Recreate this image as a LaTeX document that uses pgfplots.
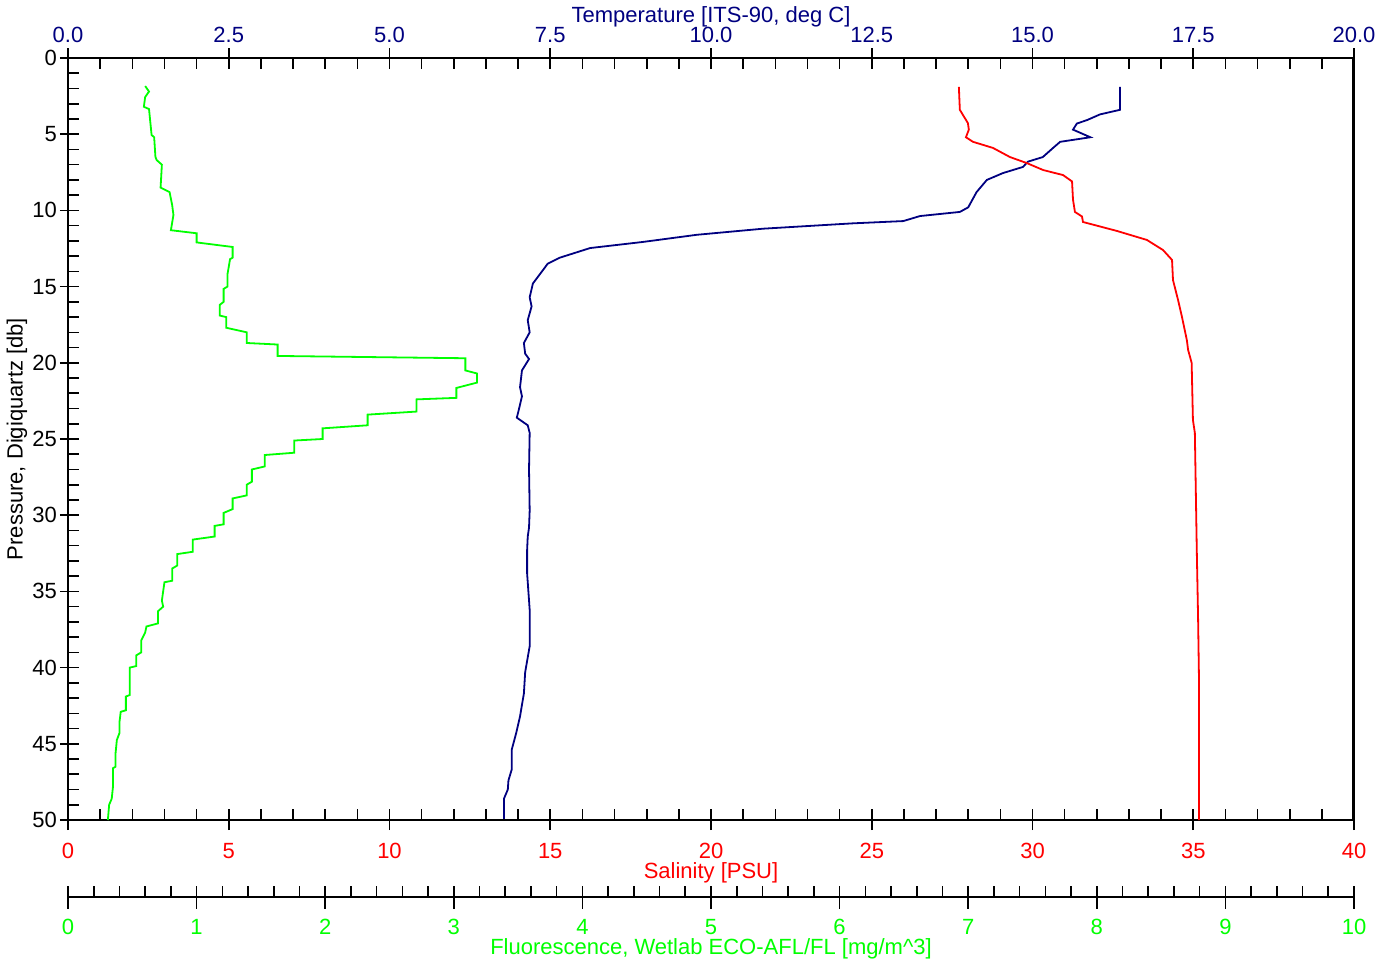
\documentclass[border=0pt]{standalone}
\usepackage{pgfplots}
\pgfplotsset{compat=1.18}
\usepackage{fontspec}
\setmainfont{Liberation Sans}

\definecolor{tempblue}{RGB}{0,0,128}
\definecolor{salred}{RGB}{255,0,0}
\definecolor{flgreen}{RGB}{0,255,0}

\newcommand{\ctdfont}{\fontsize{11}{13}\selectfont}

\pgfplotsset{
  ctd/.style={
    scale only axis, width=643pt, height=381pt,
    tick align=inside,
    major tick length=5.5pt, minor tick length=5.5pt,
    every tick/.style={black, line width=0.8pt},
    axis line style={line width=1pt},
    tick label style={font=\ctdfont},
    /pgf/number format/assume math mode=true,
  },
}

\begin{document}
\begin{tikzpicture}
\useasboundingbox (-34pt,-72pt) rectangle (663pt,410pt);

% temperature (top) and pressure (left), with the frame
\begin{axis}[ctd,
  xmin=0, xmax=20, ymin=0, ymax=50, y dir=reverse,
  xtick={0,2.5,...,20}, minor x tick num=4,
  xtick pos=right, xticklabel pos=right,
  xticklabel style={text=tempblue, anchor=base, yshift=8pt,
    /pgf/number format/.cd, fixed, fixed zerofill, precision=1},
  extra x ticks={0,2.5,...,20}, extra x tick labels={},
  extra x tick style={tick align=outside, major tick length=5pt},
  every axis x label/.style={at={(axis description cs:0.5,1)}, anchor=base,
    yshift=18pt, text=tempblue, font=\ctdfont},
  xlabel={Temperature [ITS-90, deg C]},
  ytick={0,5,...,50}, minor y tick num=4, ytick pos=left,
  yticklabel style={xshift=-2pt},
  extra y ticks={0,5,...,50}, extra y tick labels={},
  extra y tick style={tick align=outside, major tick length=4pt},
  every axis y label/.style={at={(axis description cs:0,0.5)}, rotate=90,
    anchor=center, yshift=25.5pt, font=\ctdfont},
  ylabel={Pressure, Digiquartz [db]},
]
\addplot[tempblue, line width=0.9pt] coordinates {
  (16.36,1.9) (16.36,3.4) (16.05,3.7) (15.85,4.07) (15.69,4.3) (15.63,4.7)
  (15.90,5.2) (15.43,5.5) (15.32,5.9) (15.16,6.5) (14.93,6.8) (14.85,7.15)
  (14.54,7.55) (14.29,8.0) (14.13,8.8) (14.00,9.8) (13.87,10.1) (13.25,10.37)
  (12.99,10.7) (12.2,10.85) (10.81,11.2) (9.78,11.6) (8.94,12.07) (8.12,12.47)
  (7.65,13.1) (7.46,13.5) (7.23,14.8) (7.18,15.7) (7.21,16.3) (7.15,17.2)
  (7.18,18.0) (7.09,18.7) (7.11,19.4) (7.17,19.75) (7.06,20.5) (7.03,21.6)
  (7.06,22.2) (7.01,23.1) (6.98,23.6) (7.15,24.1) (7.18,24.6) (7.17,27.0)
  (7.18,29.7) (7.17,30.8) (7.15,31.4) (7.14,32.3) (7.14,33.8) (7.18,36.2)
  (7.18,38.6) (7.11,40.3) (7.09,41.7) (7.03,43.2) (6.97,44.3) (6.90,45.4)
  (6.90,46.7) (6.85,47.4) (6.84,48.0) (6.78,48.6) (6.78,50)
};
\draw[line width=1.6pt] (rel axis cs:1,0) -- (rel axis cs:1,1);
\end{axis}

% salinity (bottom)
\begin{axis}[ctd,
  xmin=0, xmax=40, ymin=0, ymax=50, y dir=reverse,
  hide y axis,
  xtick={0,5,...,40}, minor x tick num=4,
  xtick pos=left, xticklabel pos=left,
  xticklabel style={text=salred, anchor=base, yshift=-19pt},
  extra x ticks={0,5,...,40}, extra x tick labels={},
  extra x tick style={tick align=outside, major tick length=5pt},
  every axis x label/.style={at={(axis description cs:0.5,0)}, anchor=base,
    yshift=-29.4pt, text=salred, font=\ctdfont},
  xlabel={Salinity [PSU]},
]
\addplot[salred, line width=0.9pt] coordinates {
  (27.71,1.9) (27.74,3.4) (27.99,4.27) (28.02,4.7) (27.93,5.2) (28.15,5.5)
  (28.77,5.9) (29.30,6.5) (29.83,6.9) (30.33,7.35) (30.95,7.68) (31.23,8.1)
  (31.26,9.3) (31.32,10.1) (31.54,10.4) (31.57,10.76) (32.63,11.35) (33.56,11.94)
  (34.06,12.6) (34.34,13.25) (34.37,14.57) (34.53,15.9) (34.65,17.0) (34.80,18.5)
  (34.84,19.15) (34.95,20.0) (34.99,23.75) (35.05,24.6) (35.11,32.3) (35.15,36.7)
  (35.18,41.0) (35.18,50)
};
\end{axis}

% fluorescence curve
\begin{axis}[ctd,
  xmin=0, xmax=10, ymin=0, ymax=50, y dir=reverse,
  hide axis,
]
\addplot[flgreen, line width=0.9pt] coordinates {
  (0.60,1.84) (0.63,2.2) (0.60,2.56) (0.59,3.2) (0.63,3.35) (0.64,4.2)
  (0.65,5.05) (0.67,5.2) (0.68,6.5) (0.69,6.7) (0.73,7.0) (0.72,8.5)
  (0.79,8.8) (0.81,9.65) (0.82,10.3) (0.80,11.3) (1.00,11.5) (1.00,12.1)
  (1.28,12.4) (1.28,13.1) (1.26,13.2) (1.24,14.2) (1.24,15.0) (1.21,15.15)
  (1.21,16.0) (1.18,16.2) (1.18,16.9) (1.23,17.0) (1.23,17.7) (1.39,18.0)
  (1.39,18.7) (1.63,18.8) (1.63,19.55) (3.09,19.7) (3.09,20.5) (3.18,20.7)
  (3.18,21.3) (3.02,21.65) (3.02,22.3) (2.71,22.4) (2.71,23.2) (2.33,23.4)
  (2.33,24.1) (1.98,24.3) (1.98,25.0) (1.76,25.1) (1.76,25.9) (1.53,26.05)
  (1.53,26.8) (1.43,27.0) (1.43,27.8) (1.39,28.0) (1.39,28.7) (1.28,28.9)
  (1.28,29.6) (1.21,29.85) (1.21,30.6) (1.14,30.7) (1.14,31.4) (0.97,31.6)
  (0.97,32.4) (0.85,32.55) (0.85,33.3) (0.81,33.5) (0.81,34.3) (0.75,34.4)
  (0.73,35.6) (0.74,36.0) (0.70,36.3) (0.70,37.1) (0.61,37.3) (0.60,37.7)
  (0.57,38.2) (0.57,39.0) (0.53,39.2) (0.53,39.9) (0.48,40.0) (0.48,41.8)
  (0.45,41.9) (0.45,42.8) (0.41,42.9) (0.40,43.6) (0.40,44.3) (0.38,44.75)
  (0.37,45.6) (0.37,46.5) (0.35,46.6) (0.35,47.8) (0.34,48.6) (0.32,49.0)
  (0.31,50)
};
\end{axis}

% fluorescence scale below
\begin{axis}[ctd,
  at={(0,-38.5pt)},
  xmin=0, xmax=10, ymin=0, ymax=1,
  axis x line*=bottom, hide y axis,
  xtick={0,1,...,10}, minor x tick num=4,
  xticklabel style={text=flgreen, anchor=base, yshift=-19pt},
  extra x ticks={0,1,...,10}, extra x tick labels={},
  extra x tick style={tick align=outside, major tick length=6pt},
  every axis x label/.style={at={(axis description cs:0.5,0)}, anchor=base,
    yshift=-28.9pt, text=flgreen, font=\ctdfont},
  xlabel={Fluorescence, Wetlab ECO-AFL/FL [mg/m\^{}3]},
]
\end{axis}
\end{tikzpicture}
\end{document}
